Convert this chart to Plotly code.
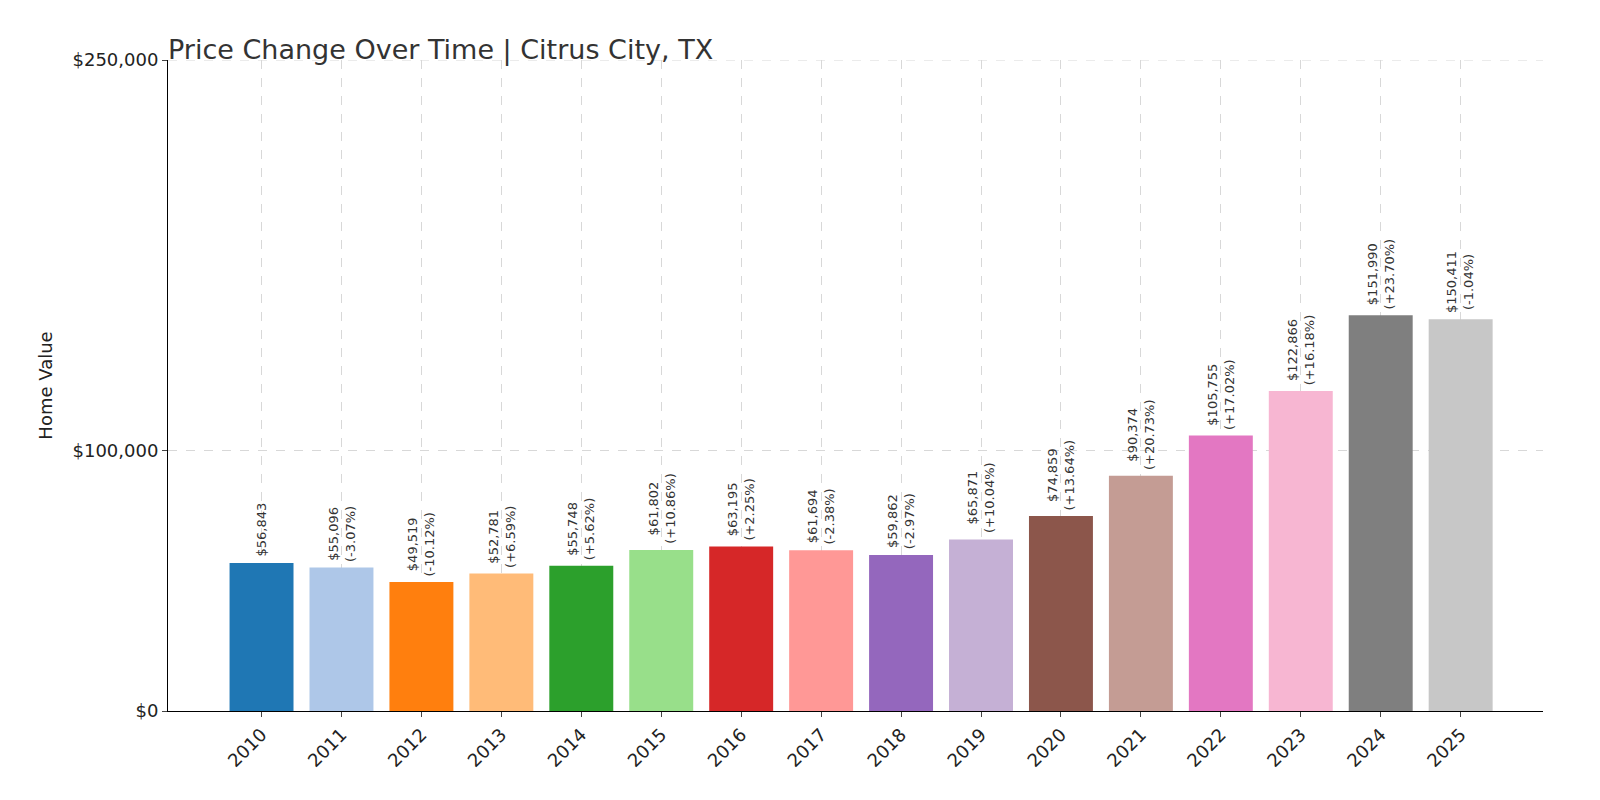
import plotly.graph_objects as go

years = [str(y) for y in range(2010, 2026)]
values = [56843, 55096, 49519, 52781, 55748, 61802, 63195, 61694, 59862, 65871,
          74859, 90374, 105755, 122866, 151990, 150411]
changes = ["", "-3.07%", "-10.12%", "+6.59%", "+5.62%", "+10.86%", "+2.25%", "-2.38%",
           "-2.97%", "+10.04%", "+13.64%", "+20.73%", "+17.02%", "+16.18%", "+23.70%", "-1.04%"]
colors = ["#1f77b4", "#aec7e8", "#ff7f0e", "#ffbb78", "#2ca02c", "#98df8a", "#d62728", "#ff9896",
          "#9467bd", "#c5b0d5", "#8c564b", "#c49c94", "#e377c2", "#f7b6d2", "#7f7f7f", "#c7c7c7"]

xs = list(range(len(years)))
fig = go.Figure(go.Bar(x=xs, y=values, marker_color=colors, marker_line_width=0, width=0.8))

for i, (v, c) in enumerate(zip(values, changes)):
    txt = f"${v:,}" + (f"<br>({c})" if c else "")
    fig.add_annotation(x=i, y=v, text=txt, textangle=-90, showarrow=False,
                       yanchor="bottom", yshift=4,
                       font=dict(size=13, color="#333"))

# dashed gridline along the top ($250,000)
fig.add_shape(type="line", xref="paper", x0=0, x1=1, yref="y", y0=250000, y1=250000,
              line=dict(color="#d8d8d8", width=1, dash="dash"))

fig.update_layout(
    width=1600, height=800, plot_bgcolor="white", paper_bgcolor="white",
    margin=dict(l=160, r=65, t=52, b=97),
    font=dict(family="DejaVu Sans", color="#222"),
    title=dict(text="Price Change Over Time | Citrus City, TX", xref="paper", x=0,
               xanchor="left", y=0.96, font=dict(size=27, color="#333")),
    showlegend=False,
)
fig.update_xaxes(tickvals=xs, ticktext=years, tickangle=-45, range=[-1.17, 16.03],
                 tickfont=dict(size=18), showline=True, linecolor="black",
                 showgrid=True, gridcolor="#d8d8d8", gridwidth=1, griddash="dash",
                 ticks="outside", ticklen=5, zeroline=False)
fig.update_yaxes(range=[0, 250000], tickvals=[0, 100000, 250000],
                 ticktext=["$0", "$100,000", "$250,000"], tickfont=dict(size=18),
                 title=dict(text="Home Value", font=dict(size=18)),
                 showline=True, linecolor="black", showgrid=True, gridcolor="#d8d8d8",
                 gridwidth=1, griddash="dash", ticks="outside", ticklen=5, zeroline=False)

fig.write_html("out.html")
